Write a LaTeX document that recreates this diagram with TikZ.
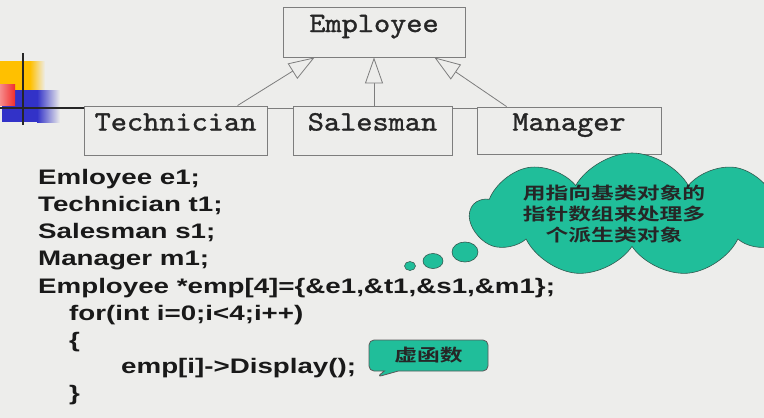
\documentclass[tikz,border=0pt]{standalone}
\usepackage{fontspec}
\usetikzlibrary{arrows.meta,shapes.symbols,shapes.callouts}
\newfontfamily\boxfont[FakeStretch=1.1,FakeBold=1.2]{lmmono10-regular.otf}
\newfontfamily\codefont[FakeStretch=1.32]{Liberation Sans Bold}
\newfontfamily\cjkfont[FakeStretch=1.34]{Noto Sans CJK SC Bold}
\definecolor{bg}{RGB}{237,237,235}
\definecolor{teal}{RGB}{32,190,154}
\definecolor{tealline}{RGB}{50,90,80}
\definecolor{boxline}{RGB}{125,125,125}
\definecolor{decoyellow}{RGB}{255,192,0}
\definecolor{decored}{RGB}{240,45,45}
\definecolor{decoblue}{RGB}{50,50,200}
\tikzset{
  classbox/.style={draw=boxline, line width=0.9pt, fill=bg, inner sep=0pt,
    text height=12pt, text depth=12pt, text=black!85,
    font=\boxfont\fontsize{28}{30}\selectfont},
  inh/.style={draw=boxline, line width=0.8pt,
    -{Triangle[open, length=26pt, width=18pt, fill=bg]}},
  code/.style={anchor=base west, inner sep=0pt,
    font=\codefont\fontsize{21}{25}\selectfont, text=black!90},
  cloudsty/.style={draw=tealline, line width=0.6pt, fill=teal},
  cjk/.style={font=\cjkfont\fontsize{17}{21}\selectfont, text=black!85}
}
\begin{document}
\begin{tikzpicture}[x=1pt,y=-1pt]
\useasboundingbox (0,0) rectangle (764,418);
\fill[bg] (0,0) rectangle (764,418);
\clip (0,0) rectangle (764,418);

% decoration
\fill[decoyellow] (0,61) rectangle (30,100);
\shade[left color=decoyellow, right color=bg] (30,61) rectangle (45,100);
\fill[decoblue] (2,90) rectangle (37,122);
\shade[left color=decoblue, right color=bg] (37,90) rectangle (60,122);
\shade[left color=decored!55, right color=decored] (0,84) rectangle (15,105);
\draw[black!85, line width=2pt] (23,53) -- (23,125);

% class boxes
\draw[boxline, line width=0.8pt] (84,108) -- (661,108);
\node[classbox, minimum width=182pt, minimum height=50pt] (emp) at (374,32) {Employee};
\node[classbox, minimum width=183pt, minimum height=49pt] (tech) at (175.5,130.5) {Technician};
\node[classbox, minimum width=159pt, minimum height=49pt] (sales) at (372.5,130.5) {Salesman};
\node[classbox, minimum width=184pt, minimum height=47pt] (mgr) at (569,130.5) {Manager};
\coordinate (lineL) at (0,108);
\draw[black!85, line width=1.6pt] (lineL) -- (lineL -| tech.west);

\draw[inh] ([xshift=154pt]tech.north west) -- ([xshift=32pt]emp.south west);
\draw[inh] ([xshift=1.5pt]sales.north) -- ([xshift=1.5pt]sales.north |- emp.south);
\draw[inh] ([xshift=30pt]mgr.north west) -- ([xshift=-31pt]emp.south east);

% code
\node[code] (c1) at (38,184) {Emloyee e1;};
\node[code] (c2) at (38,211) {Technician t1;};
\node[code] (c3) at (38,238) {Salesman s1;};
\node[code] (c4) at (38,265) {Manager m1;};
\node[code] (c5) at (38,293) {Employee *emp[4]=\{\&e1,\&t1,\&s1,\&m1\};};
\node[code] (c6) at (69,320) {for(int i=0;i<4;i++)};
\node[code] (c7) at (69,347) {\{};
\node[code] (c8) at (121,373) {emp[i]->Display();};
\node[code] (c9) at (69,400) {\}};

% thought cloud
\node[cloud, cloudsty, cloud puffs=9, cloud puff arc=120, aspect=2.5,
  minimum width=322pt, minimum height=124pt] (bubble) at (632,215) {};
\node[cjk, align=center] (bubbletext) at (614,214)
  {用指向基类对象的\\指针数组来处理多\\个派生类对象};
\draw[cloudsty] (465,252) ellipse [x radius=13, y radius=10];
\draw[cloudsty] (433,261) ellipse [x radius=10, y radius=7.5];
\draw[cloudsty] (410,266) ellipse [x radius=5.5, y radius=4.5];

% callout
\node[rectangle callout, draw=black!65, line width=0.8pt, fill=teal,
  rounded corners=5pt, callout absolute pointer={(377,377)},
  callout pointer width=14pt, minimum width=119pt, minimum height=31pt,
  inner sep=0pt, cjk] (virt) at (428.5,355.5) {虚函数};
\end{tikzpicture}
\end{document}
